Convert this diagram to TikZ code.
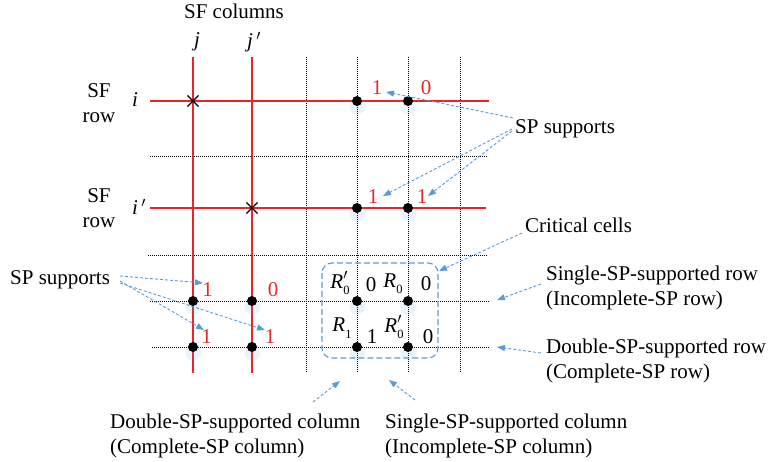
\RequirePackage{fix-cm}
\documentclass[tikz,border=0pt]{standalone}
\usepackage{fontspec}
\setmainfont{Liberation Serif}
\usetikzlibrary{arrows.meta,shapes.misc,fadings}
\definecolor{gridred}{RGB}{232,38,42}
\definecolor{callblue}{RGB}{91,155,213}
\newcommand{\mysub}[1]{\raisebox{-0.3em}{\fontsize{12.5}{12.5}\selectfont #1}}
\newcommand{\myRpz}{\textit{R}\makebox[0pt][l]{\raisebox{0.05em}{$'$}}\mysub{0}}
\newcommand{\myRz}{\textit{R}\mysub{0}}
\newcommand{\myRo}{\textit{R}\mysub{1}}
\begin{document}
\begin{tikzpicture}[x=1pt,y=-1pt,
  font=\fontsize{21}{25}\selectfont,
  redln/.style={draw=gridred, line width=2.6pt},
  gridln/.style={draw=black, line width=0.8pt, dash pattern=on 1pt off 1pt},
  dotn/.style={circle, fill=black, inner sep=0pt, minimum size=10pt},
  xmark/.style={cross out, draw=black, line width=1.1pt, inner sep=0pt, minimum size=10pt},
  redlab/.style={text=gridred, inner sep=0pt},
  lab/.style={inner sep=0pt},
  callout/.style={draw=callblue, line width=0.9pt, dash pattern=on 3pt off 2pt, -{Triangle[length=8pt,width=6pt]}},
  glow/.style={fill=callblue, opacity=0.12, path fading=circle with fuzzy edge 20 percent}
]
\useasboundingbox (0,0) rectangle (769,462);

% dotted grid lines
\foreach \x in {306,357,408,460} \draw[gridln] (\x,57) -- (\x,373);
\draw[gridln] (150,156) -- (488,156);
\draw[gridln] (148,255) -- (488,255);
\draw[gridln] (150,301) -- (490,301);
\draw[gridln] (152,347) -- (490,347);

% red SF lines
\draw[redln] (193,57) -- (193,373);
\draw[redln] (252,57) -- (252,373);
\draw[redln] (150,101) -- (489,101);
\draw[redln] (150,208) -- (486,208);

% glows under dots
\foreach \x/\y in {357/101,408/101,357/208,408/208,193/301,252/301,357/301,408/301,193/347,252/347,357/347,408/347}
  \fill[glow] (\x,\y+5) circle (9);

% dots
\node[dotn] (d1) at (357,101) {};
\node[dotn] (d2) at (408,101) {};
\node[dotn] (d3) at (357,208) {};
\node[dotn] (d4) at (408,208) {};
\node[dotn] (d5) at (193,301) {};
\node[dotn] (d6) at (252,301) {};
\node[dotn] (d7) at (357,301) {};
\node[dotn] (d8) at (408,301) {};
\node[dotn] (d9) at (193,347) {};
\node[dotn] (d10) at (252,347) {};
\node[dotn] (d11) at (357,347) {};
\node[dotn] (d12) at (408,347) {};

% crosses
\node[xmark] (x1) at (193,101) {};
\node[xmark] (x2) at (252,208) {};

% headings
\node[lab] (sfcol) at (234,11) {SF columns};
\node[lab] (jlab) at (197,42) {\textit{j}};
\node[lab] (jplab) at (254,42) {\textit{j}\,$'$};
\node[lab, align=center] (sfr1) at (99,103) {SF\\row};
\node[lab] (ilab) at (135,100) {\textit{i}};
\node[lab, align=center] (sfr2) at (99,208) {SF\\row};
\node[lab] (iplab) at (139,207) {\textit{i}\,$'$};

% red values
\node[redlab] (v1) at (377,88) {1};
\node[redlab] (v2) at (426,88) {0};
\node[redlab] (v3) at (373,197) {1};
\node[redlab] (v4) at (422,197) {1};
\node[redlab] (v5) at (207.5,290) {1};
\node[redlab] (v6) at (273,290) {0};
\node[redlab] (v7) at (206.5,337) {1};
\node[redlab] (v8) at (270,337) {1};

% critical cells
\node[lab] (c1) at (340,283) {\myRpz};
\node[lab] (c2) at (371,285) {0};
\node[lab] (c3) at (393,284) {\myRz};
\node[lab] (c4) at (426,284) {0};
\node[lab] (c5) at (342,328) {\myRo};
\node[lab] (c6) at (372,337) {1};
\node[lab] (c7) at (394,327) {\myRpz};
\node[lab] (c8) at (428,337) {0};
\draw[callblue, line width=1.1pt, dash pattern=on 6pt off 3pt, rounded corners=10pt] (322,263) rectangle (438,358);

% annotation texts
\node[lab, anchor=base west] (spR) at (515,134) {SP supports};
\node[lab, anchor=base west] (crit) at (525,233) {Critical cells};
\node[lab, anchor=west, align=left] (srow) at (546,288) {Single-SP-supported row\\(Incomplete-SP row)};
\node[lab, anchor=west, align=left] (drow) at (546,361) {Double-SP-supported row\\(Complete-SP row)};
\node[lab, anchor=base west] (spL) at (10,285) {SP supports};
\node[lab, anchor=west, align=left] (dcol) at (110,436) {Double-SP-supported column\\(Complete-SP column)};
\node[lab, anchor=west, align=left] (scol) at (385,436) {Single-SP-supported column\\(Incomplete-SP column)};

% callout coordinates
\coordinate (sR1) at (513,118);
\coordinate (sR2) at (512,129);
\coordinate (sR3) at (512,131);
\coordinate (tR1) at (386,92);
\coordinate (tR2) at (383,196);
\coordinate (tR3) at (428,196);
\coordinate (sC) at (522,233);
\coordinate (tC) at (439,271);
\coordinate (sS) at (541,284);
\coordinate (tS) at (497,300);
\coordinate (sD) at (541,353);
\coordinate (tD) at (497,347);
\coordinate (sL1) at (120,276);
\coordinate (sL2) at (120,281);
\coordinate (sL3) at (120,283);
\coordinate (tL1) at (203,283);
\coordinate (tL2) at (204,330);
\coordinate (tL3) at (265,330);
\coordinate (sDC) at (313,402);
\coordinate (tDC) at (340,381);
\coordinate (sSC) at (415,400);
\coordinate (tSC) at (389,380);

\draw[callout] (sR1) -- (tR1);
\draw[callout] (sR2) -- (tR2);
\draw[callout] (sR3) -- (tR3);
\draw[callout] (sC) -- (tC);
\draw[callout] (sS) -- (tS);
\draw[callout] (sD) -- (tD);
\draw[callout] (sL1) -- (tL1);
\draw[callout] (sL2) -- (tL2);
\draw[callout] (sL3) -- (tL3);
\draw[callout] (sDC) -- (tDC);
\draw[callout] (sSC) -- (tSC);
\end{tikzpicture}
\end{document}
